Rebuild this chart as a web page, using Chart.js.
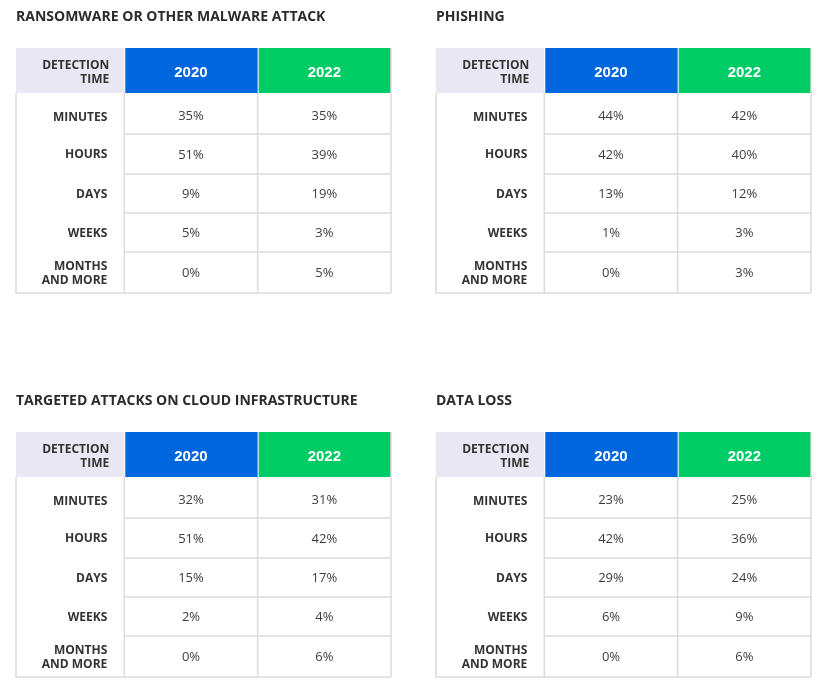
<!DOCTYPE html>
<html>
<head>
<meta charset="utf-8">
<title>Detection time by incident type</title>
<script src="https://cdn.jsdelivr.net/npm/chart.js@4"></script>
<style>
  body { margin: 0; background: #fff; }
  #wrap { position: relative; width: 835px; height: 700px; }
  .panel { position: absolute; }
  .panel canvas { display: block; }
</style>
</head>
<body>
<div id="wrap">
  <div class="panel" style="left:0;top:0"><canvas id="c0" width="415" height="310"></canvas></div>
  <div class="panel" style="left:420px;top:0"><canvas id="c1" width="415" height="310"></canvas></div>
  <div class="panel" style="left:0;top:384px"><canvas id="c2" width="415" height="310"></canvas></div>
  <div class="panel" style="left:420px;top:384px"><canvas id="c3" width="415" height="310"></canvas></div>
</div>
<script>
// ---- data ----
const panelTitles = [
  "RANSOMWARE OR OTHER MALWARE ATTACK",
  "PHISHING",
  "TARGETED ATTACKS ON CLOUD INFRASTRUCTURE",
  "DATA LOSS",
];
const headerLabel = ["DETECTION", "TIME"];
const years = ["2020", "2022"];
const rowLabels = [["MINUTES"], ["HOURS"], ["DAYS"], ["WEEKS"], ["MONTHS", "AND MORE"]];

const ransomware2020 = [35, 51, 9, 5, 0];
const ransomware2022 = [35, 39, 19, 3, 5];
const phishing2020 = [44, 42, 13, 1, 0];
const phishing2022 = [42, 40, 12, 3, 3];
const cloud2020 = [32, 51, 15, 2, 0];
const cloud2022 = [31, 42, 17, 4, 6];
const dataLoss2020 = [23, 42, 29, 6, 0];
const dataLoss2022 = [25, 36, 24, 9, 6];

const panelSeries = [
  [ransomware2020, ransomware2022],
  [phishing2020, phishing2022],
  [cloud2020, cloud2022],
  [dataLoss2020, dataLoss2022],
];

// ---- layout (scale units) ----
const colWidths = [108, 133, 133];
const rowHeights = [45, 41, 40, 39, 39, 41];
const colEdges = [0];
colWidths.forEach((w) => colEdges.push(colEdges[colEdges.length - 1] + w));
const rowEdges = [0];
rowHeights.forEach((h) => rowEdges.push(rowEdges[rowEdges.length - 1] + h));

const headFill = ["#e9e7f3", "#0066dd", "#00cc66"];
const lineColor = "#dcdcdc";
const labelColor = "#333333";
const valueColor = "#3d3d3d";
const capRatio = 0.714;

function drawLines(ctx, lines, x, cy, size, lh) {
  const top = cy - ((lines.length - 1) * lh) / 2;
  lines.forEach((t, i) => {
    ctx.fillText(t, x, top + i * lh + (size * capRatio) / 2);
  });
}

const tablePlugin = {
  id: "tableCells",
  beforeDatasetsDraw(chart) {
    const ctx = chart.ctx;
    const px = (v) => chart.scales.x.getPixelForValue(v);
    const py = (v) => chart.scales.y.getPixelForValue(v);
    const headTop = py(rowEdges[0]);
    const headBot = py(rowEdges[1]);
    const bottom = py(rowEdges[rowEdges.length - 1]);

    ctx.save();
    // header cells
    for (let c = 0; c < colWidths.length; c++) {
      const x0 = px(colEdges[c]) + (c > 0 ? 1 : 0);
      const x1 = px(colEdges[c + 1]);
      ctx.fillStyle = headFill[c];
      ctx.fillRect(x0, headTop, x1 - x0, headBot - headTop);
    }

    // grid lines
    ctx.strokeStyle = lineColor;
    ctx.lineWidth = 1.5;
    ctx.beginPath();
    ctx.moveTo(px(colEdges[0]), headBot);
    ctx.lineTo(px(colEdges[0]), bottom);
    ctx.lineTo(px(colEdges[colEdges.length - 1]), bottom);
    for (let c = 1; c < colEdges.length; c++) {
      ctx.moveTo(px(colEdges[c]), c === colEdges.length - 1 ? headTop : headBot);
      ctx.lineTo(px(colEdges[c]), bottom);
    }
    for (let r = 2; r < rowEdges.length - 1; r++) {
      ctx.moveTo(px(colEdges[1]), py(rowEdges[r]));
      ctx.lineTo(px(colEdges[colEdges.length - 1]), py(rowEdges[r]));
    }
    ctx.stroke();

    // header texts
    ctx.fillStyle = labelColor;
    ctx.font = "bold 12px 'Open Sans'";
    ctx.textAlign = "right";
    ctx.textBaseline = "alphabetic";
    const labelX = px(colEdges[1]) - 15;
    drawLines(ctx, headerLabel, labelX, (headTop + headBot) / 2 + 1, 12, 14);

    ctx.fillStyle = "#ffffff";
    ctx.font = "bold 15px 'Liberation Sans', Arial";
    ctx.textAlign = "center";
    years.forEach((y, i) => {
      const cx = (px(colEdges[i + 1]) + px(colEdges[i + 2])) / 2;
      drawLines(ctx, [y], cx, (headTop + headBot) / 2 + 1, 15, 15);
    });

    // row labels
    ctx.fillStyle = labelColor;
    ctx.font = "bold 12px 'Open Sans'";
    ctx.textAlign = "right";
    rowLabels.forEach((lines, r) => {
      const cy = (py(rowEdges[r + 1]) + py(rowEdges[r + 2])) / 2 + (r === 0 ? 3 : 0);
      drawLines(ctx, lines, px(colEdges[1]) - 17, cy, 12, 14);
    });
    ctx.restore();
  },
  afterDatasetsDraw(chart) {
    const ctx = chart.ctx;
    ctx.save();
    ctx.fillStyle = valueColor;
    ctx.font = "13px 'Open Sans'";
    ctx.textAlign = "center";
    ctx.textBaseline = "alphabetic";
    chart.data.datasets.forEach((ds, di) => {
      const meta = chart.getDatasetMeta(di);
      meta.data.forEach((pt, i) => {
        ctx.fillText(ds.data[i].v + "%", pt.x, pt.y + (13 * capRatio) / 2);
      });
    });
    ctx.restore();
  },
};

function makeDataset(label, values, col) {
  const cx = (colEdges[col] + colEdges[col + 1]) / 2;
  return {
    label: label,
    data: values.map((v, i) => ({
      x: cx,
      y: (rowEdges[i + 1] + rowEdges[i + 2]) / 2 + (i === 0 ? 2 : 0),
      v: v,
    })),
    pointRadius: 0,
    pointHoverRadius: 0,
  };
}

panelTitles.forEach((title, p) => {
  const canvas = document.getElementById("c" + p);
  new Chart(canvas.getContext("2d"), {
    type: "scatter",
    data: {
      datasets: [
        makeDataset(years[0], panelSeries[p][0], 1),
        makeDataset(years[1], panelSeries[p][1], 2),
      ],
    },
    options: {
      responsive: false,
      animation: false,
      events: [],
      layout: { padding: { left: 16, right: 24, top: 0, bottom: 17 } },
      plugins: {
        legend: { display: false },
        tooltip: { enabled: false },
        title: {
          display: true,
          text: title,
          align: "start",
          color: "#2b2b2b",
          font: { family: "'Open Sans'", size: 14, weight: "bold", lineHeight: 1.2 },
          padding: { top: 9, bottom: 22.2 },
        },
      },
      scales: {
        x: { type: "linear", display: false, min: 0, max: colEdges[colEdges.length - 1] },
        y: { type: "linear", display: false, min: 0, max: rowEdges[rowEdges.length - 1], reverse: true },
      },
    },
    plugins: [tablePlugin],
  });
});
</script>
</body>
</html>
